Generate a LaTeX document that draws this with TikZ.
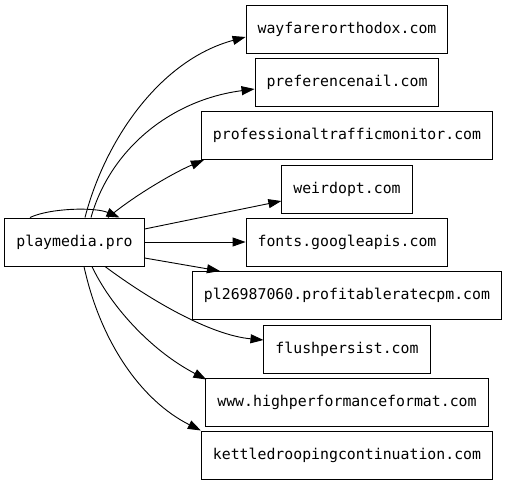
\documentclass[tikz,border=0pt]{standalone}
\usepackage{fontspec}
\newfontfamily\monofnt{DejaVu Sans Mono}
\usetikzlibrary{arrows.meta}
\begin{document}
\begin{tikzpicture}[x=1pt,y=-1pt,
  site/.style={draw=black,line width=1pt,inner xsep=11.5pt,minimum height=48pt,
    font=\monofnt\fontsize{14.85pt}{17pt}\selectfont},
  edge/.style={draw=black,line width=0.9pt,-{Triangle[length=13pt,width=9pt]}}]
\useasboundingbox (0,0) rectangle (508,485);
\node[site] (pm) at (74.5,242) {playmedia.pro};
\node[site] (wf) at (347,29) {wayfarerorthodox.com};
\node[site] (pn) at (347,82) {preferencenail.com};
\node[site] (pt) at (347,135.5) {professionaltrafficmonitor.com};
\node[site] (wo) at (347,189) {weirdopt.com};
\node[site] (fg) at (347,242) {fonts.googleapis.com};
\node[site] (pl) at (347,295.5) {pl26987060.profitableratecpm.com};
\node[site] (fp) at (347,349) {flushpersist.com};
\node[site] (hp) at (347,402) {www.highperformanceformat.com};
\node[site] (kd) at (347,455) {kettledroopingcontinuation.com};
% self loop
\draw[edge] ([xshift=-44.5pt]pm.north) .. controls (50,208) and (95,207) .. ([xshift=45pt]pm.north);
% upper edges
\draw[edge] ([xshift=10.5pt]pm.north) .. controls (105,140) and (160,60) .. ([yshift=-8pt]wf.west);
\draw[edge] ([xshift=16.5pt]pm.north) .. controls (110,150) and (170,100) .. ([yshift=-7pt]pn.west);
\draw[edge] ([xshift=33.5pt]pm.north) .. controls (135,195) and (175,172) .. ([xshift=3pt]pt.south west);
% straight edges
\draw[edge] ([yshift=13pt]pm.east) -- ([yshift=-12pt]wo.west);
\draw[edge] (pm.east) -- (fg.west);
\draw[edge] ([yshift=-16pt]pm.east) -- ([xshift=28pt]pl.north west);
% lower edges
\draw[edge] ([xshift=30.5pt]pm.south) .. controls (150,300) and (210,335) .. ([yshift=9pt]fp.west);
\draw[edge] ([xshift=17.5pt]pm.south) .. controls (110,305) and (150,350) .. ([xshift=1pt,yshift=-2pt]hp.north west);
\draw[edge] ([xshift=9.5pt]pm.south) .. controls (100,340) and (140,400) .. (kd.north west);
\end{tikzpicture}
\end{document}
